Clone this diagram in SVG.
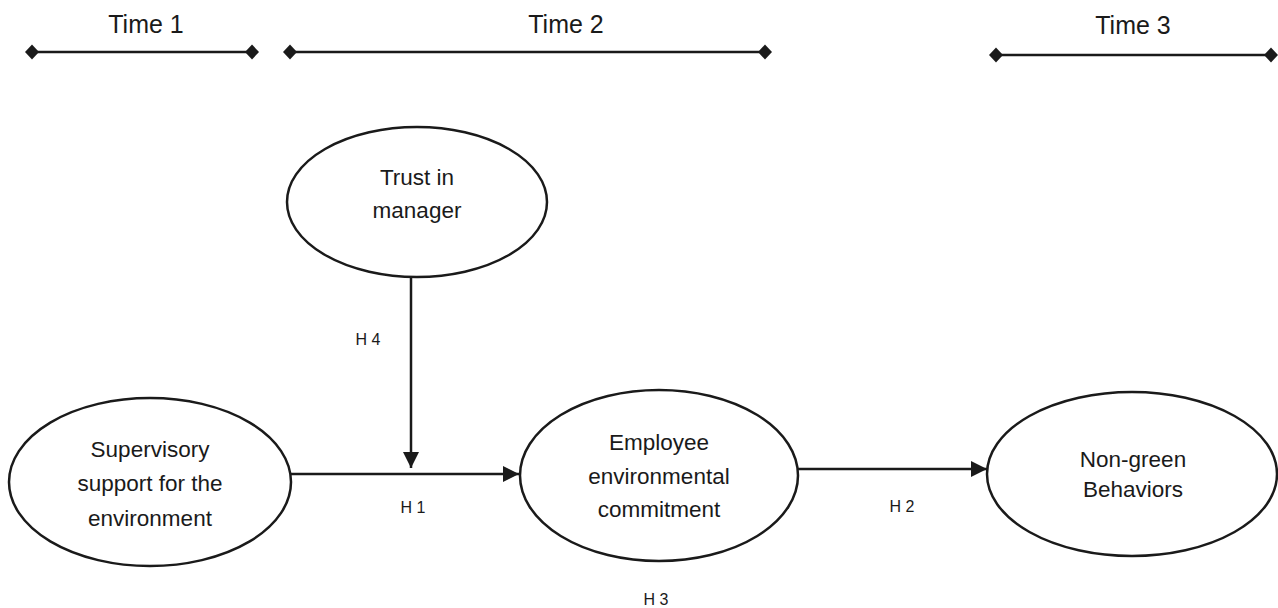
<svg xmlns="http://www.w3.org/2000/svg" width="1278" height="608" viewBox="0 0 1278 608">
<style>
.t{font-family:"Liberation Sans",Arial,sans-serif;fill:#1a1a1a;text-anchor:middle}
.time{font-size:25px}
.node{font-size:22.5px}
.h{font-size:16px}
.el{fill:#fff;stroke:#1a1a1a;stroke-width:2.5}
.ln{stroke:#1a1a1a;stroke-width:2.5;fill:none}
.dm{fill:#1a1a1a}
</style>
<defs>
<marker id="arr" markerWidth="6.4" markerHeight="6.4" refX="6.4" refY="3.2" orient="auto" markerUnits="strokeWidth">
<path d="M0,0 L6.4,3.2 L0,6.4 Z" fill="#1a1a1a"/>
</marker>
</defs>
<g id="timeline">
<text class="t time" x="146" y="33">Time 1</text>
<line class="ln" x1="32" y1="52" x2="252" y2="52"/>
<path class="dm" d="M25,52 L32,44.5 L39,52 L32,59.5 Z"/>
<path class="dm" d="M245,52 L252,44.5 L259,52 L252,59.5 Z"/>
<text class="t time" x="566" y="33">Time 2</text>
<line class="ln" x1="290" y1="52" x2="765" y2="52"/>
<path class="dm" d="M283,52 L290,44.5 L297,52 L290,59.5 Z"/>
<path class="dm" d="M758,52 L765,44.5 L772,52 L765,59.5 Z"/>
<text class="t time" x="1133" y="34">Time 3</text>
<line class="ln" x1="996" y1="55" x2="1271" y2="55"/>
<path class="dm" d="M989,55 L996,47.5 L1003,55 L996,62.5 Z"/>
<path class="dm" d="M1264,55 L1271,47.5 L1278,55 L1271,62.5 Z"/>
</g>
<g id="connectors">
<line class="ln" x1="411" y1="277" x2="411" y2="468" marker-end="url(#arr)"/>
<line class="ln" x1="291" y1="474" x2="519" y2="474" marker-end="url(#arr)"/>
<line class="ln" x1="798" y1="469" x2="987" y2="469" marker-end="url(#arr)"/>
<text class="t h" x="368" y="345">H 4</text>
<text class="t h" x="413" y="513">H 1</text>
<text class="t h" x="902" y="512">H 2</text>
<text class="t h" x="656" y="605">H 3</text>
</g>
<g id="trust">
<ellipse class="el" cx="417" cy="202" rx="130" ry="75"/>
<text class="t node" x="417" y="185">Trust in</text>
<text class="t node" x="417" y="218">manager</text>
</g>
<g id="supervisory">
<ellipse class="el" cx="150" cy="482" rx="141" ry="84"/>
<text class="t node" x="150" y="457">Supervisory</text>
<text class="t node" x="150" y="491">support for the</text>
<text class="t node" x="150" y="526">environment</text>
</g>
<g id="commitment">
<ellipse class="el" cx="659" cy="475.5" rx="139" ry="85.5"/>
<text class="t node" x="659" y="450">Employee</text>
<text class="t node" x="659" y="484">environmental</text>
<text class="t node" x="659" y="517">commitment</text>
</g>
<g id="nongreen">
<ellipse class="el" cx="1132" cy="474" rx="145" ry="82"/>
<text class="t node" x="1133" y="467">Non-green</text>
<text class="t node" x="1133" y="497">Behaviors</text>
</g>
</svg>
